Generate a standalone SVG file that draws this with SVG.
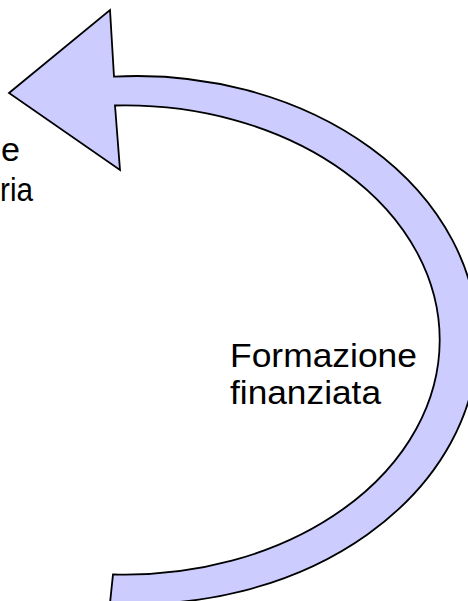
<svg xmlns="http://www.w3.org/2000/svg" width="468" height="601" viewBox="0 0 468 601">
  <style>
    .shape { fill: #CCCCFF; stroke: #000000; stroke-width: 1.8; stroke-linejoin: miter; }
    .label { font-family: "Liberation Sans", Arial, sans-serif; font-size: 33px; fill: #000000; }
  </style>
  <rect x="0" y="0" width="468" height="601" fill="#FFFFFF"/>
  <g id="curved-arrow">
    <path class="shape" d="M 9,93 L 110,10 L 114,76.6 A 341 264 0 1 1 110,603.2 L 113,574.4 A 314.5 234.6 0 1 0 115,105.5 L 120,170 Z"/>
  </g>
  <g id="label-left">
    <text class="label" x="1" y="161" textLength="19" lengthAdjust="spacingAndGlyphs">e</text>
    <text class="label" x="0" y="201" textLength="33" lengthAdjust="spacingAndGlyphs">ria</text>
  </g>
  <g id="label-formazione-finanziata">
    <text class="label" x="230" y="367" textLength="187" lengthAdjust="spacingAndGlyphs">Formazione</text>
    <text class="label" x="230" y="404" textLength="151" lengthAdjust="spacingAndGlyphs">finanziata</text>
  </g>
</svg>
